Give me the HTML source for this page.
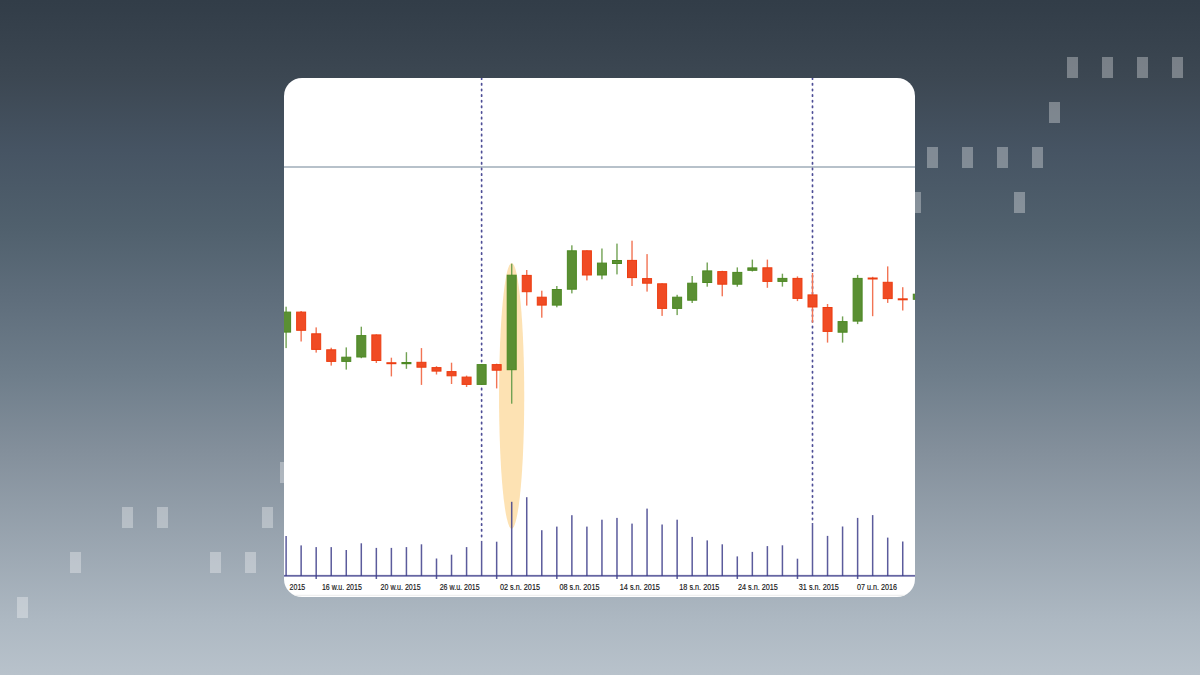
<!DOCTYPE html>
<html><head><meta charset="utf-8"><style>
html,body{margin:0;padding:0;}
body{width:1200px;height:675px;overflow:hidden;position:relative;
background:linear-gradient(180deg,#323d48 0px,#333e49 10px,#3c4752 77px,#465463 150px,#50606d 227px,#5f6e7c 300px,#6f7e8b 377px,#838f9b 450px,#adb8c2 620px,#b8c2cb 675px);
font-family:"Liberation Sans",sans-serif;}
.r{position:absolute;width:11px;height:21px;background:rgba(255,255,255,0.32);}
.card{position:absolute;left:284px;top:78px;width:631px;height:519px;background:#fff;border-radius:18px;overflow:hidden;}
.card svg{position:absolute;left:0;top:0;}
.lb{font-family:"Liberation Sans",sans-serif;font-size:8.3px;fill:#151515;stroke:#151515;stroke-width:0.15px;}
</style></head><body>
<div class="r" style="left:1067px;top:57px"></div>
<div class="r" style="left:1102px;top:57px"></div>
<div class="r" style="left:1137px;top:57px"></div>
<div class="r" style="left:1172px;top:57px"></div>
<div class="r" style="left:1049.2px;top:102px"></div>
<div class="r" style="left:927px;top:147px"></div>
<div class="r" style="left:962px;top:147px"></div>
<div class="r" style="left:997px;top:147px"></div>
<div class="r" style="left:1032px;top:147px"></div>
<div class="r" style="left:909.5px;top:192px"></div>
<div class="r" style="left:1014px;top:192px"></div>
<div class="r" style="left:279.5px;top:462px"></div>
<div class="r" style="left:122px;top:507px"></div>
<div class="r" style="left:157px;top:507px"></div>
<div class="r" style="left:262px;top:507px"></div>
<div class="r" style="left:69.5px;top:552px"></div>
<div class="r" style="left:209.5px;top:552px"></div>
<div class="r" style="left:244.5px;top:552px"></div>
<div class="r" style="left:17px;top:597px"></div>
<div class="card"><svg width="640" height="519" viewBox="0 0 640 519">
<rect x="0" y="88.2" width="640" height="1.6" fill="#a6b2be"/>
<ellipse cx="227.65" cy="317.85" rx="12.6" ry="132.85" fill="#fde2b3"/>
<line x1="197.62" y1="-0.05" x2="197.62" y2="460.5" stroke="#4d4d96" stroke-width="1.7" stroke-linecap="round" stroke-dasharray="1.3 4.3458"/>
<line x1="528.5" y1="-0.05" x2="528.5" y2="442.5" stroke="#4d4d96" stroke-width="1.7" stroke-linecap="round" stroke-dasharray="1.3 4.3458"/>
<rect x="1.4" y="228.7" width="1.4" height="41.4" fill="#72a254"/>
<rect x="-2.4" y="234.1" width="9" height="20" fill="#5a8f33" stroke="#4c8822" stroke-width="1"/>
<rect x="16.44" y="233" width="1.4" height="30.5" fill="#f27454"/>
<rect x="12.64" y="234.1" width="9" height="18.2" fill="#f04b24" stroke="#ec3c10" stroke-width="1"/>
<rect x="31.48" y="249.4" width="1.4" height="25.2" fill="#f27454"/>
<rect x="27.68" y="255.8" width="9" height="15.6" fill="#f04b24" stroke="#ec3c10" stroke-width="1"/>
<rect x="46.52" y="269.7" width="1.4" height="17.9" fill="#f27454"/>
<rect x="42.72" y="271.8" width="9" height="11.6" fill="#f04b24" stroke="#ec3c10" stroke-width="1"/>
<rect x="61.56" y="269.4" width="1.4" height="22.2" fill="#72a254"/>
<rect x="57.76" y="279.2" width="9" height="4.2" fill="#5a8f33" stroke="#4c8822" stroke-width="1"/>
<rect x="76.6" y="248.7" width="1.4" height="31.5" fill="#72a254"/>
<rect x="72.8" y="257.6" width="9" height="21.4" fill="#5a8f33" stroke="#4c8822" stroke-width="1"/>
<rect x="91.64" y="256.4" width="1.4" height="28.6" fill="#f27454"/>
<rect x="87.84" y="256.9" width="9" height="25.6" fill="#f04b24" stroke="#ec3c10" stroke-width="1"/>
<rect x="106.68" y="279.7" width="1.4" height="18.7" fill="#f27454"/>
<rect x="102.38" y="284.2" width="10" height="2" fill="#ec3c10"/>
<rect x="121.72" y="274.2" width="1.4" height="16.6" fill="#72a254"/>
<rect x="117.42" y="284" width="10" height="2.2" fill="#4c8822"/>
<rect x="136.76" y="270.1" width="1.4" height="36.8" fill="#f27454"/>
<rect x="132.96" y="284.3" width="9" height="4.9" fill="#f04b24" stroke="#ec3c10" stroke-width="1"/>
<rect x="151.8" y="288.2" width="1.4" height="8.3" fill="#f27454"/>
<rect x="148" y="289.6" width="9" height="3.5" fill="#f04b24" stroke="#ec3c10" stroke-width="1"/>
<rect x="166.84" y="284.7" width="1.4" height="21.3" fill="#f27454"/>
<rect x="163.04" y="293.6" width="9" height="4.2" fill="#f04b24" stroke="#ec3c10" stroke-width="1"/>
<rect x="181.88" y="297.6" width="1.4" height="11.4" fill="#f27454"/>
<rect x="178.08" y="299.1" width="9" height="7.3" fill="#f04b24" stroke="#ec3c10" stroke-width="1"/>
<rect x="196.92" y="286.1" width="1.4" height="20.8" fill="#72a254"/>
<rect x="193.12" y="286.6" width="9" height="19.8" fill="#5a8f33" stroke="#4c8822" stroke-width="1"/>
<rect x="211.96" y="285.7" width="1.4" height="24.7" fill="#f27454"/>
<rect x="208.16" y="286.6" width="9" height="5.6" fill="#f04b24" stroke="#ec3c10" stroke-width="1"/>
<rect x="227" y="185.7" width="1.4" height="140" fill="#72a254"/>
<rect x="223.2" y="197.2" width="9" height="94.5" fill="#5a8f33" stroke="#4c8822" stroke-width="1"/>
<rect x="242.04" y="192" width="1.4" height="35.6" fill="#f27454"/>
<rect x="238.24" y="197.4" width="9" height="16.3" fill="#f04b24" stroke="#ec3c10" stroke-width="1"/>
<rect x="257.08" y="212.7" width="1.4" height="27" fill="#f27454"/>
<rect x="253.28" y="219.2" width="9" height="7.9" fill="#f04b24" stroke="#ec3c10" stroke-width="1"/>
<rect x="272.12" y="208" width="1.4" height="21.3" fill="#72a254"/>
<rect x="268.32" y="211.5" width="9" height="15.6" fill="#5a8f33" stroke="#4c8822" stroke-width="1"/>
<rect x="287.16" y="167.3" width="1.4" height="48.1" fill="#72a254"/>
<rect x="283.36" y="172.8" width="9" height="38.4" fill="#5a8f33" stroke="#4c8822" stroke-width="1"/>
<rect x="302.2" y="172.3" width="1.4" height="30.1" fill="#f27454"/>
<rect x="298.4" y="172.8" width="9" height="24.2" fill="#f04b24" stroke="#ec3c10" stroke-width="1"/>
<rect x="317.24" y="170.5" width="1.4" height="30.8" fill="#72a254"/>
<rect x="313.44" y="185.1" width="9" height="11.9" fill="#5a8f33" stroke="#4c8822" stroke-width="1"/>
<rect x="332.28" y="165.6" width="1.4" height="30.8" fill="#72a254"/>
<rect x="328.48" y="182.5" width="9" height="3" fill="#5a8f33" stroke="#4c8822" stroke-width="1"/>
<rect x="347.32" y="162.7" width="1.4" height="45.3" fill="#f27454"/>
<rect x="343.52" y="182.4" width="9" height="17.2" fill="#f04b24" stroke="#ec3c10" stroke-width="1"/>
<rect x="362.36" y="176.1" width="1.4" height="37.5" fill="#f27454"/>
<rect x="358.56" y="200.6" width="9" height="4.6" fill="#f04b24" stroke="#ec3c10" stroke-width="1"/>
<rect x="377.4" y="205.3" width="1.4" height="32.6" fill="#f27454"/>
<rect x="373.6" y="205.8" width="9" height="24.6" fill="#f04b24" stroke="#ec3c10" stroke-width="1"/>
<rect x="392.44" y="216.8" width="1.4" height="20.3" fill="#72a254"/>
<rect x="388.64" y="219.2" width="9" height="11.2" fill="#5a8f33" stroke="#4c8822" stroke-width="1"/>
<rect x="407.48" y="198" width="1.4" height="27" fill="#72a254"/>
<rect x="403.68" y="205.2" width="9" height="17" fill="#5a8f33" stroke="#4c8822" stroke-width="1"/>
<rect x="422.52" y="184.5" width="1.4" height="24.2" fill="#72a254"/>
<rect x="418.72" y="192.9" width="9" height="11.6" fill="#5a8f33" stroke="#4c8822" stroke-width="1"/>
<rect x="437.56" y="192.8" width="1.4" height="25.5" fill="#f27454"/>
<rect x="433.76" y="193.6" width="9" height="12.6" fill="#f04b24" stroke="#ec3c10" stroke-width="1"/>
<rect x="452.6" y="189.4" width="1.4" height="19.3" fill="#72a254"/>
<rect x="448.8" y="194.4" width="9" height="11.8" fill="#5a8f33" stroke="#4c8822" stroke-width="1"/>
<rect x="467.64" y="181.6" width="1.4" height="11.9" fill="#72a254"/>
<rect x="463.84" y="189.9" width="9" height="2.4" fill="#5a8f33" stroke="#4c8822" stroke-width="1"/>
<rect x="482.68" y="181.6" width="1.4" height="28.2" fill="#f27454"/>
<rect x="478.88" y="189.8" width="9" height="13.6" fill="#f04b24" stroke="#ec3c10" stroke-width="1"/>
<rect x="497.72" y="195.7" width="1.4" height="12.9" fill="#72a254"/>
<rect x="493.92" y="200.4" width="9" height="3" fill="#5a8f33" stroke="#4c8822" stroke-width="1"/>
<rect x="512.76" y="198.4" width="1.4" height="24.7" fill="#f27454"/>
<rect x="508.96" y="200.4" width="9" height="20" fill="#f04b24" stroke="#ec3c10" stroke-width="1"/>
<rect x="527.8" y="195" width="1.4" height="49.6" fill="#f27454"/>
<rect x="524" y="216.9" width="9" height="12.1" fill="#f04b24" stroke="#ec3c10" stroke-width="1"/>
<rect x="542.84" y="226" width="1.4" height="38.6" fill="#f27454"/>
<rect x="539.04" y="229.5" width="9" height="23.9" fill="#f04b24" stroke="#ec3c10" stroke-width="1"/>
<rect x="557.88" y="238.4" width="1.4" height="26.2" fill="#72a254"/>
<rect x="554.08" y="243.6" width="9" height="10.6" fill="#5a8f33" stroke="#4c8822" stroke-width="1"/>
<rect x="572.92" y="196.9" width="1.4" height="49.2" fill="#72a254"/>
<rect x="569.12" y="200.4" width="9" height="42.7" fill="#5a8f33" stroke="#4c8822" stroke-width="1"/>
<rect x="587.96" y="198.8" width="1.4" height="39.4" fill="#f27454"/>
<rect x="583.66" y="199.5" width="10" height="2" fill="#ec3c10"/>
<rect x="603" y="188.4" width="1.4" height="36.5" fill="#f27454"/>
<rect x="599.2" y="204.3" width="9" height="16.3" fill="#f04b24" stroke="#ec3c10" stroke-width="1"/>
<rect x="618.04" y="209.2" width="1.4" height="23.3" fill="#f27454"/>
<rect x="613.74" y="220.3" width="10" height="2" fill="#ec3c10"/>
<rect x="633.08" y="212" width="1.4" height="12" fill="#72a254"/>
<rect x="629.28" y="216.2" width="9" height="5.1" fill="#5a8f33" stroke="#4c8822" stroke-width="1"/>
<rect x="1.35" y="458" width="1.5" height="40" fill="#40408c" fill-opacity="0.86"/>
<rect x="16.39" y="467.4" width="1.5" height="30.6" fill="#40408c" fill-opacity="0.86"/>
<rect x="31.43" y="469.1" width="1.5" height="31.9" fill="#40408c" fill-opacity="0.86"/>
<rect x="46.47" y="469.1" width="1.5" height="28.9" fill="#40408c" fill-opacity="0.86"/>
<rect x="61.51" y="472" width="1.5" height="26" fill="#40408c" fill-opacity="0.86"/>
<rect x="76.55" y="465.3" width="1.5" height="32.7" fill="#40408c" fill-opacity="0.86"/>
<rect x="91.59" y="469.9" width="1.5" height="31.1" fill="#40408c" fill-opacity="0.86"/>
<rect x="106.63" y="469.9" width="1.5" height="28.1" fill="#40408c" fill-opacity="0.86"/>
<rect x="121.67" y="469.1" width="1.5" height="28.9" fill="#40408c" fill-opacity="0.86"/>
<rect x="136.71" y="466.3" width="1.5" height="31.7" fill="#40408c" fill-opacity="0.86"/>
<rect x="151.75" y="480.5" width="1.5" height="20.5" fill="#40408c" fill-opacity="0.86"/>
<rect x="166.79" y="476.7" width="1.5" height="21.3" fill="#40408c" fill-opacity="0.86"/>
<rect x="181.83" y="469.1" width="1.5" height="28.9" fill="#40408c" fill-opacity="0.86"/>
<rect x="196.87" y="462.9" width="1.5" height="35.1" fill="#40408c" fill-opacity="0.86"/>
<rect x="211.91" y="463.7" width="1.5" height="37.3" fill="#40408c" fill-opacity="0.86"/>
<rect x="226.95" y="423.8" width="1.5" height="74.2" fill="#40408c" fill-opacity="0.86"/>
<rect x="241.99" y="419.2" width="1.5" height="78.8" fill="#40408c" fill-opacity="0.86"/>
<rect x="257.03" y="452.2" width="1.5" height="45.8" fill="#40408c" fill-opacity="0.86"/>
<rect x="272.07" y="448.6" width="1.5" height="52.4" fill="#40408c" fill-opacity="0.86"/>
<rect x="287.11" y="437.2" width="1.5" height="60.8" fill="#40408c" fill-opacity="0.86"/>
<rect x="302.15" y="448.6" width="1.5" height="49.4" fill="#40408c" fill-opacity="0.86"/>
<rect x="317.19" y="441.7" width="1.5" height="56.3" fill="#40408c" fill-opacity="0.86"/>
<rect x="332.23" y="439.9" width="1.5" height="61.1" fill="#40408c" fill-opacity="0.86"/>
<rect x="347.27" y="445.6" width="1.5" height="52.4" fill="#40408c" fill-opacity="0.86"/>
<rect x="362.31" y="430.6" width="1.5" height="67.4" fill="#40408c" fill-opacity="0.86"/>
<rect x="377.35" y="446.5" width="1.5" height="51.5" fill="#40408c" fill-opacity="0.86"/>
<rect x="392.39" y="441.7" width="1.5" height="59.3" fill="#40408c" fill-opacity="0.86"/>
<rect x="407.43" y="458.9" width="1.5" height="39.1" fill="#40408c" fill-opacity="0.86"/>
<rect x="422.47" y="462.4" width="1.5" height="35.6" fill="#40408c" fill-opacity="0.86"/>
<rect x="437.51" y="466.3" width="1.5" height="31.7" fill="#40408c" fill-opacity="0.86"/>
<rect x="452.55" y="478.4" width="1.5" height="22.6" fill="#40408c" fill-opacity="0.86"/>
<rect x="467.59" y="473.9" width="1.5" height="24.1" fill="#40408c" fill-opacity="0.86"/>
<rect x="482.63" y="468.1" width="1.5" height="29.9" fill="#40408c" fill-opacity="0.86"/>
<rect x="497.67" y="467.3" width="1.5" height="30.7" fill="#40408c" fill-opacity="0.86"/>
<rect x="512.71" y="480.7" width="1.5" height="20.3" fill="#40408c" fill-opacity="0.86"/>
<rect x="527.75" y="445" width="1.5" height="53" fill="#40408c" fill-opacity="0.86"/>
<rect x="542.79" y="457.9" width="1.5" height="40.1" fill="#40408c" fill-opacity="0.86"/>
<rect x="557.83" y="448.5" width="1.5" height="49.5" fill="#40408c" fill-opacity="0.86"/>
<rect x="572.87" y="439.9" width="1.5" height="61.1" fill="#40408c" fill-opacity="0.86"/>
<rect x="587.91" y="437.1" width="1.5" height="60.9" fill="#40408c" fill-opacity="0.86"/>
<rect x="602.95" y="459.6" width="1.5" height="38.4" fill="#40408c" fill-opacity="0.86"/>
<rect x="617.99" y="463.5" width="1.5" height="34.5" fill="#40408c" fill-opacity="0.86"/>
<rect x="633.03" y="452" width="1.5" height="49" fill="#40408c" fill-opacity="0.86"/>
<rect x="0" y="496.9" width="640" height="1.8" fill="#40408c" fill-opacity="0.8"/>
<text x="5.6" y="511.9" class="lb" textLength="15.6" lengthAdjust="spacingAndGlyphs">2015</text>
<text x="37.9" y="511.9" class="lb" textLength="40" lengthAdjust="spacingAndGlyphs">16 w.u. 2015</text>
<text x="96.6" y="511.9" class="lb" textLength="40" lengthAdjust="spacingAndGlyphs">20 w.u. 2015</text>
<text x="155.7" y="511.9" class="lb" textLength="40" lengthAdjust="spacingAndGlyphs">26 w.u. 2015</text>
<text x="216" y="511.9" class="lb" textLength="40" lengthAdjust="spacingAndGlyphs">02 s.n. 2015</text>
<text x="275.5" y="511.9" class="lb" textLength="40" lengthAdjust="spacingAndGlyphs">08 s.n. 2015</text>
<text x="335.8" y="511.9" class="lb" textLength="40" lengthAdjust="spacingAndGlyphs">14 s.n. 2015</text>
<text x="395.3" y="511.9" class="lb" textLength="40" lengthAdjust="spacingAndGlyphs">18 s.n. 2015</text>
<text x="453.9" y="511.9" class="lb" textLength="40" lengthAdjust="spacingAndGlyphs">24 s.n. 2015</text>
<text x="514.8" y="511.9" class="lb" textLength="40" lengthAdjust="spacingAndGlyphs">31 s.n. 2015</text>
<text x="573.1" y="511.9" class="lb" textLength="40" lengthAdjust="spacingAndGlyphs">07 u.n. 2016</text>
<rect x="0" y="516.8" width="640" height="1" fill="#ececec"/>
</svg></div>
</body></html>
